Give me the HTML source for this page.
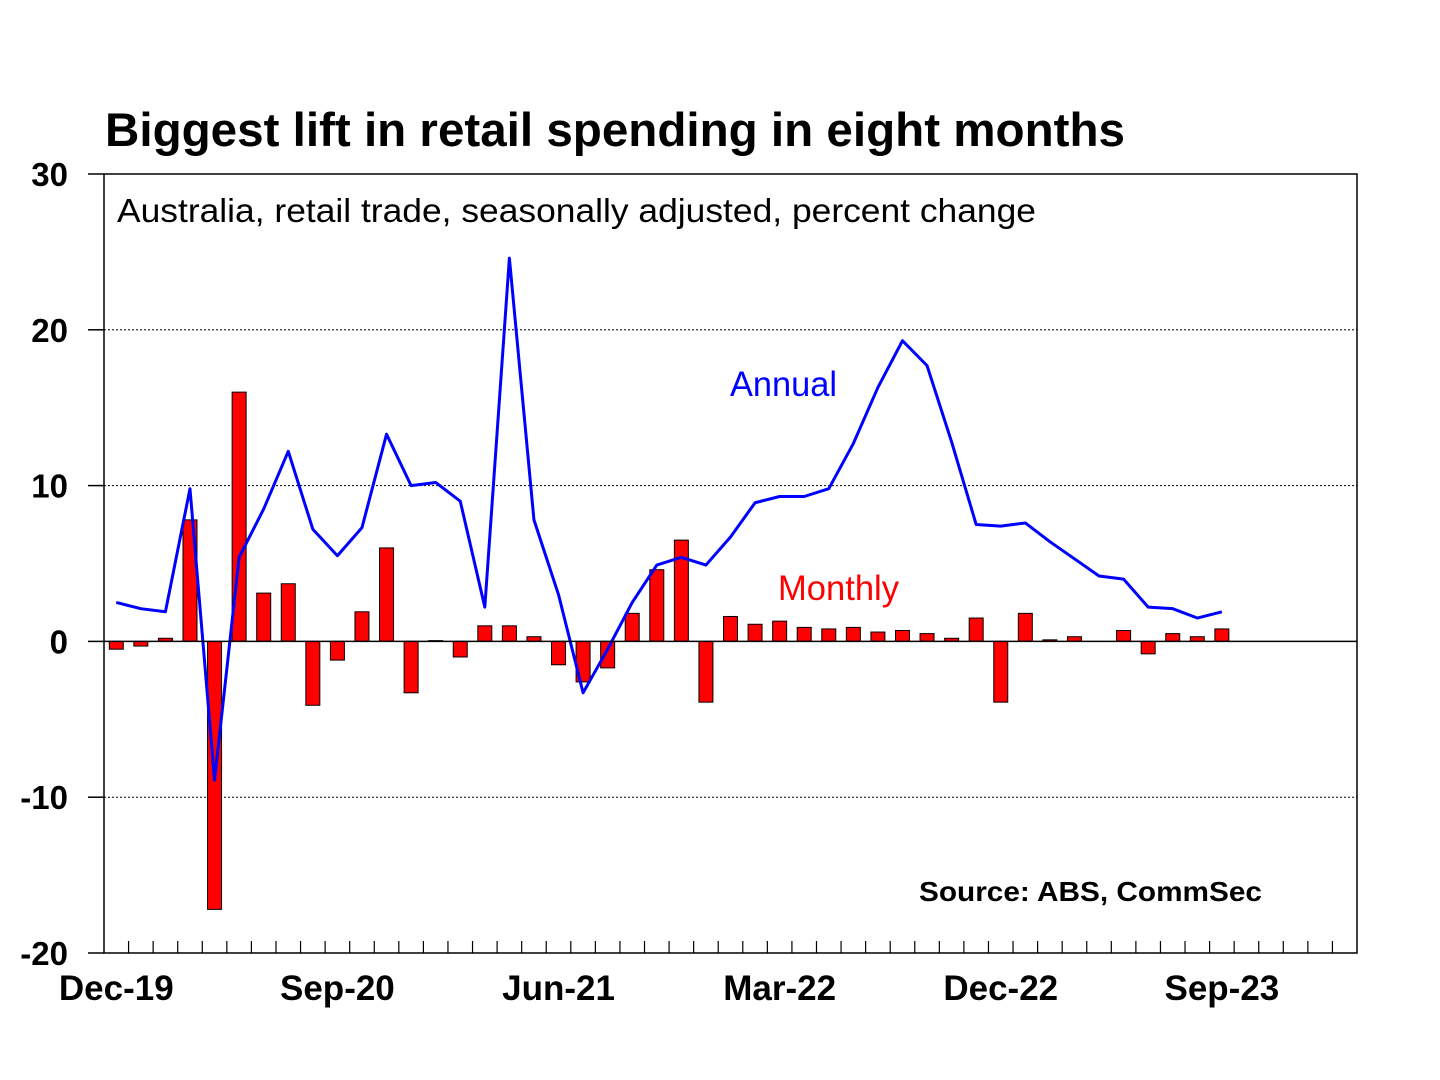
<!DOCTYPE html>
<html><head><meta charset="utf-8"><style>
body{margin:0;background:#fff;}
svg{display:block;font-family:"Liberation Sans",Arial,sans-serif;}
</style></head><body>
<svg id="chart" width="1440" height="1080">
<rect width="1440" height="1080" fill="#fff"/>
<text x="105" y="146" font-size="47" font-weight="bold" textLength="1020" lengthAdjust="spacingAndGlyphs">Biggest lift in retail spending in eight months</text>
<g id="grid"></g>
<rect x="104" y="174" width="1253" height="779" fill="none" stroke="#000" stroke-width="1.5"/>
<text x="117" y="222" font-size="33" textLength="919" lengthAdjust="spacingAndGlyphs">Australia, retail trade, seasonally adjusted, percent change</text>
<g id="bars"></g>
<g id="line"></g>
<text x="730" y="396" font-size="35" fill="#0000ff" textLength="107" lengthAdjust="spacingAndGlyphs">Annual</text>
<text x="778" y="600" font-size="35" fill="#ff0000" textLength="121" lengthAdjust="spacingAndGlyphs">Monthly</text>
<text x="919" y="901" font-size="28" font-weight="bold" textLength="343" lengthAdjust="spacingAndGlyphs">Source: ABS, CommSec</text>
<g id="axes"></g>
</svg>
<script>
const yTicks=[30,20,10,0,-10,-20];
const xLabels=["Dec-19","Sep-20","Jun-21","Mar-22","Dec-22","Sep-23"];
const xLabelIdx=[0,9,18,27,36,45];
const monthly=[-0.5,-0.3,0.2,7.8,-17.2,16.0,3.1,3.7,-4.1,-1.2,1.9,6.0,-3.3,0.05,-1.0,1.0,1.0,0.3,-1.5,-2.6,-1.7,1.8,4.6,6.5,-3.9,1.6,1.1,1.3,0.9,0.8,0.9,0.6,0.7,0.5,0.2,1.5,-3.9,1.8,0.1,0.3,0.0,0.7,-0.8,0.5,0.3,0.8];
const annual=[2.5,2.1,1.9,9.8,-8.9,5.4,8.5,12.2,7.2,5.5,7.3,13.3,10.0,10.2,9.0,2.2,24.6,7.8,3.0,-3.3,-0.5,2.5,4.9,5.4,4.9,6.7,8.9,9.3,9.3,9.8,12.7,16.3,19.3,17.7,12.8,7.5,7.4,7.6,6.4,5.3,4.2,4.0,2.2,2.1,1.5,1.9];
const NS="http://www.w3.org/2000/svg";
const X0=104,X1=1357,Y0=174,Y1=953,NSLOT=51,slot=(X1-X0)/NSLOT;
const y=v=>Y0+(30-v)/50*(Y1-Y0);
const x=i=>X0+(i+0.5)*slot;
function mk(t,a,p){const e=document.createElementNS(NS,t);for(const k in a)e.setAttribute(k,a[k]);p.appendChild(e);return e;}
const grid=document.getElementById('grid'),axes=document.getElementById('axes'),bars=document.getElementById('bars'),line=document.getElementById('line');
yTicks.forEach(v=>{
 if(v!==30&&v!==-20&&v!==0){const g=mk('line',{x1:X0,x2:X1,y1:y(v),y2:y(v),stroke:'#000','stroke-width':1,'stroke-dasharray':'2,2'},grid);
 
 }
 const t=mk('line',{x1:88,x2:X0,y1:y(v),y2:y(v),stroke:'#000','stroke-width':1.5},axes);
 
 
 const l=mk('text',{x:68,y:y(v)+12,'font-size':33,'font-weight':'bold','text-anchor':'end'},axes);
 l.textContent=v;
 
 
});
monthly.forEach((v,i)=>{
 const r=mk('rect',{x:x(i)-7,width:14,y:Math.min(y(v),y(0)),height:Math.abs(y(v)-y(0)),fill:'#ff0000',stroke:'#000','stroke-width':1},bars);
 
 
});
const z=mk('line',{x1:X0,x2:X1,y1:y(0),y2:y(0),stroke:'#000','stroke-width':1.5},axes);


const p=mk('polyline',{points:annual.map((v,i)=>x(i)+','+y(v)).join(' '),fill:'none',stroke:'#0000ff','stroke-width':3,'stroke-linejoin':'round'},line);


for(let i=1;i<NSLOT;i++){
 const t=mk('line',{x1:X0+i*slot,x2:X0+i*slot,y1:Y1,y2:Y1-12,stroke:'#000','stroke-width':1.2},axes);
 
 
}
xLabels.forEach((s,k)=>{
 const l=mk('text',{x:x(xLabelIdx[k]),y:1000,'font-size':35,'font-weight':'bold','text-anchor':'middle'},axes);
 l.textContent=s;
 
 
});
</script>
</body></html>
